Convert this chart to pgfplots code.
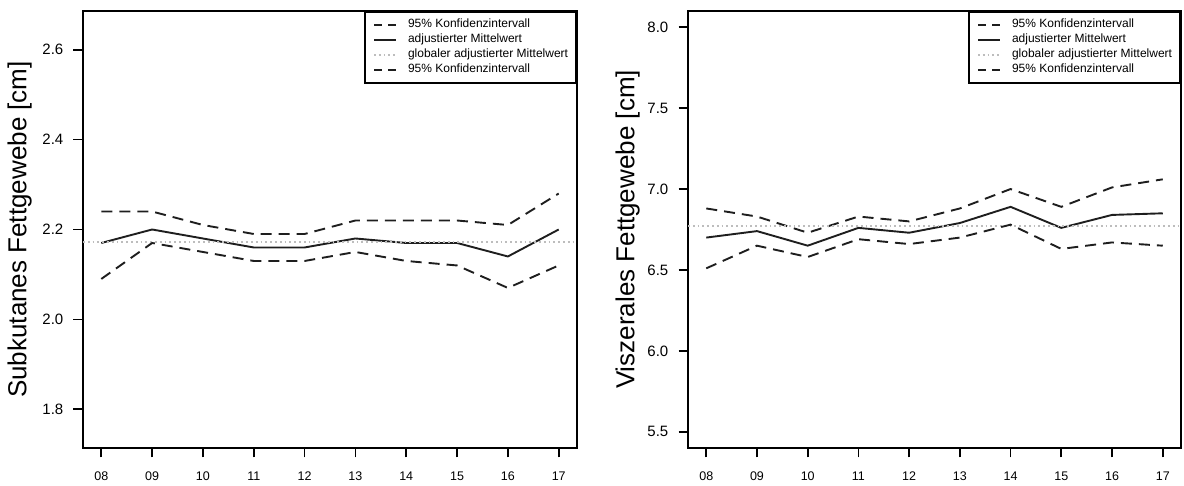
\documentclass[border=0pt]{standalone}
\usepackage{fontspec}
\setmainfont{Liberation Sans}
\usepackage{pgfplots}
\usepackage{pgfplotstable}
\pgfplotsset{compat=1.18}

\definecolor{linedark}{HTML}{1E1E1E}
\definecolor{refgray}{HTML}{BDBDBD}

% adjusted means with 95% confidence limits, survey years 08--17
\pgfplotstableread{
x up mean lo
0 2.24 2.17 2.09
1 2.24 2.20 2.17
2 2.21 2.18 2.15
3 2.19 2.16 2.13
4 2.19 2.16 2.13
5 2.22 2.18 2.15
6 2.22 2.17 2.13
7 2.22 2.17 2.12
8 2.21 2.14 2.07
9 2.28 2.20 2.12
}\subdata

\pgfplotstableread{
x up mean lo
0 6.88 6.70 6.51
1 6.83 6.74 6.65
2 6.73 6.65 6.58
3 6.83 6.76 6.69
4 6.80 6.73 6.66
5 6.88 6.79 6.70
6 7.00 6.89 6.78
7 6.89 6.76 6.63
8 7.01 6.84 6.67
9 7.06 6.85 6.65
}\visdata

\pgfplotsset{
  ciline/.style={linedark, line width=1.9pt, dash pattern=on 11pt off 7pt,
    legend image code/.code={\draw[##1, dash pattern=on 8pt off 6pt] (0pt,0pt) -- (22pt,0pt);}},
  meanline/.style={linedark, line width=1.9pt, solid},
  globline/.style={refgray, line width=1.9pt, dash pattern=on 1.8pt off 3pt},
  rpanel/.style={
    scale only axis, width=494pt, height=437pt,
    axis line style={line width=1.8pt, black},
    tick align=outside, xtick pos=bottom, ytick pos=left,
    major tick length=9.5pt,
    every tick/.style={line width=1.8pt, black},
    xmin=-0.36, xmax=9.36,
    xtick={0,...,9}, xticklabels={08,09,10,11,12,13,14,15,16,17},
    /pgf/number format/assume math mode=true,
    xticklabel style={font=\fontsize{12.5}{14}\selectfont, inner sep=0pt, anchor=north, yshift=-14pt},
    yticklabel style={font=\fontsize{15}{17}\selectfont, inner sep=0pt, anchor=east, xshift=-10pt,
      /pgf/number format/fixed, /pgf/number format/fixed zerofill, /pgf/number format/precision=1},
    every axis y label/.style={at={(rel axis cs:0,0.5)}, rotate=90, anchor=south,
      inner sep=0pt, font=\fontsize{26}{30}\selectfont},
    legend image code/.code={\draw[#1] (0pt,0pt) -- (22pt,0pt);},
    legend cell align=left,
    legend style={at={(rel axis cs:1,1)}, anchor=north east, draw=black, line width=1.8pt,
      font=\fontsize{12}{14}\selectfont, inner xsep=8pt, inner ysep=7pt,
      column sep=11pt, row sep=3pt,
      nodes={inner sep=0pt, text height=9pt, text depth=3pt}},
  }
}

\begin{document}
\begin{tikzpicture}
\path[use as bounding box] (0,0) rectangle (1184pt,486pt);

\begin{axis}[rpanel, at={(83pt,38pt)}, anchor=south west,
  ymin=1.714, ymax=2.686, ytick={1.8,2.0,2.2,2.4,2.6},
  ylabel={Subkutanes Fettgewebe [cm]},
  ylabel style={yshift=51pt}]
  \addplot[ciline] table[x=x, y=up] {\subdata};
  \addlegendentry{95\% Konfidenzintervall}
  \addplot[meanline] table[x=x, y=mean] {\subdata};
  \addlegendentry{adjustierter Mittelwert}
  \addplot[globline] coordinates {(-0.36,2.172) (9.36,2.172)};
  \addlegendentry{globaler adjustierter Mittelwert}
  \addplot[ciline] table[x=x, y=lo] {\subdata};
  \addlegendentry{95\% Konfidenzintervall}
\end{axis}

\begin{axis}[rpanel, at={(688pt,38pt)}, anchor=south west, width=493pt,
  ymin=5.4, ymax=8.1, ytick={5.5,6.0,6.5,7.0,7.5,8.0},
  ylabel={Viszerales Fettgewebe [cm]},
  ylabel style={yshift=48pt}]
  \addplot[ciline] table[x=x, y=up] {\visdata};
  \addlegendentry{95\% Konfidenzintervall}
  \addplot[meanline] table[x=x, y=mean] {\visdata};
  \addlegendentry{adjustierter Mittelwert}
  \addplot[globline] coordinates {(-0.36,6.77) (9.36,6.77)};
  \addlegendentry{globaler adjustierter Mittelwert}
  \addplot[ciline] table[x=x, y=lo] {\visdata};
  \addlegendentry{95\% Konfidenzintervall}
\end{axis}
\end{tikzpicture}
\end{document}
